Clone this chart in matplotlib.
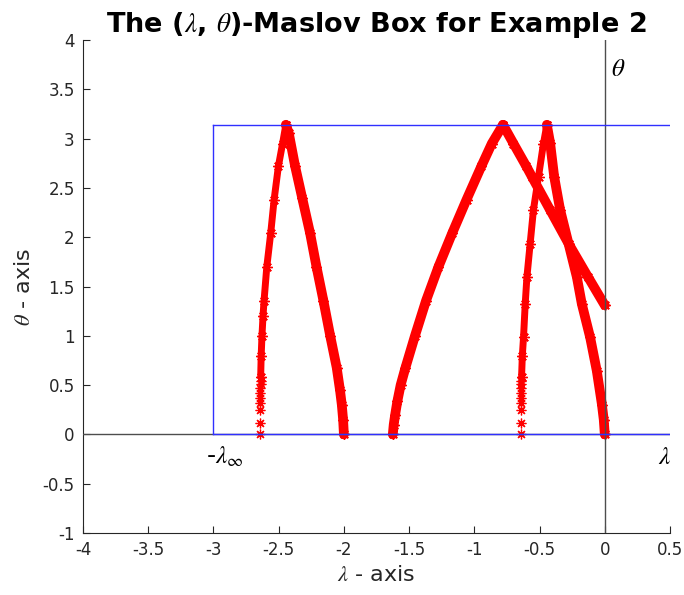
import numpy as np
import matplotlib
matplotlib.use("Agg")
import matplotlib.pyplot as plt

plt.rcParams["axes.unicode_minus"] = False
plt.rcParams["font.family"] = "DejaVu Sans"
plt.rcParams["mathtext.fontset"] = "stix"

# box limits
lam_inf = -3.0
theta_top = np.pi

# eigenvalue crossings (lambda, theta)
# left arch
lam_a_up = [-2.638, -2.634, -2.628, -2.62, -2.612, -2.591, -2.561, -2.535, -2.502, -2.47, -2.445]
th_a_up = [0.58, 0.8, 1.0, 1.2, 1.357, 1.7, 2.04, 2.38, 2.72, 2.95, 3.14]
lam_a_down = [-2.445, -2.423, -2.374, -2.32, -2.259, -2.21, -2.157, -2.105, -2.055, -2.03, -2.016, -2.006, -2.0]
th_a_down = [3.14, 3.06, 2.72, 2.4, 2.04, 1.7, 1.357, 1.0, 0.677, 0.45, 0.3, 0.15, 0.0]

# middle arch
lam_b_up = [-1.625, -1.618, -1.607, -1.59, -1.565, -1.528, -1.455, -1.37, -1.275, -1.17, -1.06, -0.946, -0.866, -0.78]
th_b_up = [0.0, 0.1, 0.2, 0.337, 0.5, 0.677, 1.0, 1.357, 1.7, 2.04, 2.38, 2.72, 2.95, 3.14]
lam_b_down = [-0.78, -0.70, -0.602, -0.559, -0.419, -0.278, -0.13, 0.0]
th_b_down = [3.14, 2.95, 2.72, 2.615, 2.276, 1.936, 1.6, 1.31]

# right arch
lam_c_up = [-0.638, -0.632, -0.623, -0.61, -0.597, -0.572, -0.547, -0.508, -0.47, -0.444]
th_c_up = [0.58, 0.8, 0.983, 1.323, 1.595, 1.936, 2.276, 2.615, 2.95, 3.14]
lam_c_down = [-0.444, -0.419, -0.388, -0.342, -0.278, -0.214, -0.176, -0.112, -0.061, -0.022, -0.008, 0.0]
th_c_down = [3.14, 2.956, 2.615, 2.276, 1.936, 1.595, 1.323, 0.983, 0.643, 0.303, 0.15, 0.0]

# sparse markers at the foot of the steep branches
th_foot = [0.0, 0.115, 0.252, 0.32, 0.37, 0.42, 0.466, 0.507, 0.545]
lam_a_foot = [-2.64, -2.64, -2.64, -2.64, -2.64, -2.64, -2.64, -2.639, -2.639]
lam_c_foot = [-0.644, -0.644, -0.644, -0.644, -0.644, -0.643, -0.643, -0.642, -0.641]

xticks = [-4, -3.5, -3, -2.5, -2, -1.5, -1, -0.5, 0, 0.5]
xtick_labels = ["-4", "-3.5", "-3", "-2.5", "-2", "-1.5", "-1", "-0.5", "0", "0.5"]
yticks = [-1, -0.5, 0, 0.5, 1, 1.5, 2, 2.5, 3, 3.5, 4]
ytick_labels = ["-1", "-0.5", "0", "0.5", "1", "1.5", "2", "2.5", "3", "3.5", "4"]

fig = plt.figure(figsize=(6.84, 5.95), dpi=100)
ax = fig.add_axes([83 / 684, 62 / 595, 587 / 684, 493 / 595])

star = (8, 2, 0)
red = (1, 0, 0)

# dense parts: thick band of asterisks
for lam, th, lw in [(lam_a_up, th_a_up, 5.0), (lam_a_down, th_a_down, 7.0),
                    (lam_b_up, th_b_up, 7.0), (lam_b_down, th_b_down, 7.0),
                    (lam_c_up, th_c_up, 5.0), (lam_c_down, th_c_down, 7.0)]:
    ax.plot(lam, th, color=red, lw=lw, solid_capstyle="round", solid_joinstyle="round", zorder=2)
    ax.plot(lam, th, ls="none", marker=star, ms=7.5, mew=1.0, color=red, zorder=2)

# sparse foot markers
ax.plot(lam_a_foot, th_foot, ls="none", marker=star, ms=7, mew=0.9, color=red, zorder=2)
ax.plot(lam_c_foot, th_foot, ls="none", marker=star, ms=7, mew=0.9, color=red, zorder=2)

# coordinate axes
ax.axhline(0, color="0.3", lw=1.0, zorder=3)
ax.axvline(0, color="0.3", lw=1.0, zorder=3)

# Maslov box
box_col = "#3030ff"
ax.plot([lam_inf, lam_inf], [0, theta_top], color=box_col, lw=1.0, zorder=4)
ax.plot([lam_inf, 0.5], [theta_top, theta_top], color=box_col, lw=1.0, zorder=4)
ax.plot([lam_inf, 0.5], [0, 0], color=box_col, lw=1.0, zorder=4)

ax.text(-3.06, -0.30, r"-$\lambda_\infty$", fontsize=18, ha="left", va="baseline")
ax.text(0.41, -0.30, r"$\lambda$", fontsize=18, ha="left", va="baseline")
ax.text(0.045, 3.63, r"$\theta$", fontsize=18, ha="left", va="baseline")

ax.set_xlim(-4, 0.5)
ax.set_ylim(-1, 4)
ax.set_xticks(xticks)
ax.set_xticklabels(xtick_labels)
ax.set_yticks(yticks)
ax.set_yticklabels(ytick_labels)
ax.tick_params(direction="in", length=5, labelsize=12, colors="0.15", pad=6)
for side in ["top", "right"]:
    ax.spines[side].set_visible(False)
for side in ["left", "bottom"]:
    ax.spines[side].set_color("0.15")

ax.set_xlabel(r"$\lambda$ - axis", fontsize=16, color="0.15", labelpad=4)
ax.set_ylabel(r"$\theta$ - axis", fontsize=16, color="0.15", labelpad=6)
ax.set_title(r"The ($\lambda$, $\theta$)-Maslov Box for Example 2", fontsize=19.5,
             fontweight="bold", pad=6)

fig.savefig("out.png", dpi=100)
